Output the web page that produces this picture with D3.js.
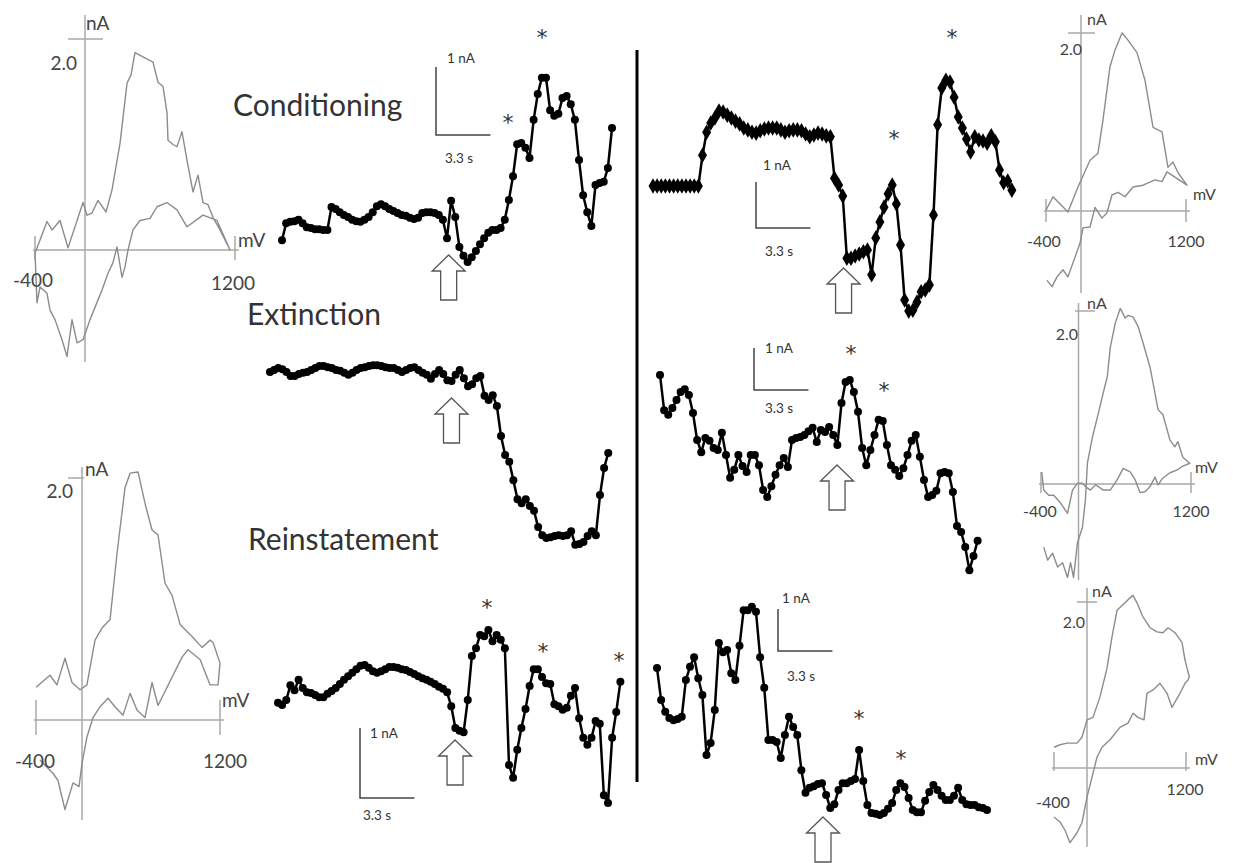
<!DOCTYPE html>
<html>
<head>
<meta charset="utf-8">
<script src="https://cdn.jsdelivr.net/npm/d3@7"></script>
<style>
  body { margin: 0; background: #fff; }
  svg { display: block; }
  text { font-family: Lato, "Open Sans", sans-serif; }
  text.star { font-family: "DejaVu Sans", sans-serif; }
</style>
</head>
<body>
<div id="fig"></div>
<script>

/*
    DATA
*/

// sampling of the voltammetric traces
var dt = 0.25;        // s between samples
var pxPerSec = 16.5;  // 3.3 s scale bar ~ 54 px

// current traces (nA, relative to pre-cue level), one value every 0.25 s
var condLeft = [-0.15,0.10,0.12,0.13,0.15,0.10,0.04,0.03,0.01,0.01,
    0,0,0.34,0.31,0.26,0.22,0.19,0.15,0.13,0.12,
    0.15,0.19,0.26,0.35,0.38,0.35,0.31,0.28,0.25,0.22,
    0.21,0.18,0.16,0.18,0.25,0.26,0.26,0.25,0.22,0.15,
    -0.12,0.43,0.19,-0.25,-0.38,-0.47,-0.40,-0.31,-0.21,-0.12,
    -0.04,0,0,0.03,0.15,0.44,0.79,1.26,1.28,1.21,
    1.06,1.62,2.00,2.24,2.24,1.76,1.68,1.71,1.94,1.97,
    1.85,1.62,1.03,0.51,0.26,0.06,0.66,0.69,0.71,0.91,
    1.50];

var condRight = [0,0,0,0,0,0,0,0,0,0,0,0,
    0.67,1.17,1.37,1.48,1.63,1.61,1.54,1.48,1.41,1.35,
    1.26,1.22,1.17,1.15,1.20,1.24,1.26,1.26,1.26,1.22,
    1.17,1.20,1.22,1.22,1.20,1.13,1.07,1.11,1.15,1.13,
    1.09,1.07,0.17,0.02,-0.22,-1.57,-1.57,-1.52,-1.48,-1.43,
    -1.39,-1.93,-1.13,-0.78,-0.46,-0.17,0.02,-0.39,-1.28,-2.48,
    -2.72,-2.70,-2.52,-2.30,-2.26,-2.15,-0.63,1.33,2.13,2.30,
    2.26,1.93,1.50,1.26,1.02,0.74,1.07,1.00,0.98,0.93,
    1.09,0.96,0.35,0.07,0.11,-0.09];

var extLeft = [-0.03,0,0.03,0.01,-0.03,-0.09,-0.09,-0.06,-0.04,-0.03,
    0,0.03,0.06,0.06,0.04,0.03,0,-0.01,-0.04,-0.07,
    -0.04,0,0.03,0.04,0.06,0.07,0.07,0.06,0.04,0.03,
    0.03,0,-0.03,0,0.03,0.04,0,-0.04,-0.07,-0.13,
    -0.06,0,-0.06,-0.15,-0.16,-0.07,0,-0.12,-0.24,-0.21,
    -0.12,-0.09,-0.38,-0.44,-0.37,-0.53,-0.97,-1.25,-1.35,-1.62,
    -1.90,-1.96,-1.90,-2.00,-2.07,-2.31,-2.43,-2.47,-2.46,-2.44,
    -2.43,-2.44,-2.43,-2.37,-2.57,-2.56,-2.53,-2.44,-2.37,-2.43,
    -1.84,-1.44,-1.22];

var extRight = [1.55,0.71,0.60,0.76,0.95,1.14,1.21,1.07,0.64,0,
    -0.29,0.05,-0.02,-0.19,-0.24,0.17,-0.36,-0.90,-0.71,-0.36,
    -0.62,-0.76,-0.36,-0.36,-0.60,-1.19,-1.36,-1.10,-0.83,-0.60,
    -0.43,-0.64,0,0.05,0.07,0.12,0.21,0.29,-0.05,0.24,
    0.19,0.31,0.12,-0.12,0.88,1.38,1.43,1.14,0.67,-0.19,
    -0.60,-0.24,0.12,0.48,0.45,-0.12,-0.60,-0.71,-0.86,-0.67,
    -0.36,-0.02,0.12,-0.40,-0.95,-1.36,-1.31,-1.21,-0.79,-0.76,
    -0.79,-1.24,-2.05,-2.19,-2.55,-3.10,-2.76,-2.40];

var reinLeft = [-0.04,-0.07,0,0.21,0.14,0.29,0.17,0.11,0.10,0.07,
    0.04,0.04,0.09,0.13,0.17,0.23,0.29,0.34,0.39,0.44,
    0.49,0.50,0.46,0.41,0.39,0.41,0.44,0.47,0.47,0.46,
    0.44,0.43,0.40,0.37,0.34,0.31,0.29,0.26,0.23,0.19,
    0.16,0.11,-0.09,-0.40,-0.44,-0.46,0,0.63,0.74,0.93,
    0.91,1.00,0.84,0.93,0.86,0.74,-0.93,-1.11,-0.71,-0.40,
    -0.13,0.20,0.44,0.44,0.33,0.24,0.23,-0.06,-0.09,-0.14,
    -0.11,0.06,0.17,-0.26,-0.54,-0.64,-0.54,-0.30,-0.34,-1.36,
    -1.47,-0.54,-0.17,0.26];

var reinRight = [3.14,2.38,2.10,1.95,1.90,1.93,1.98,2.86,3.17,3.40,
    2.90,2.50,1.07,1.36,2.14,3.74,3.52,3.57,3.02,2.86,
    3.67,4.52,4.52,4.60,4.48,3.40,2.67,1.43,1.43,1.38,
    1.00,1.55,1.98,1.74,1.55,0.71,0.17,0.29,0.33,0.38,
    0.40,0.12,-0.19,-0.10,0.24,0.40,0.40,0.45,0.50,1.19,
    0.45,-0.12,-0.31,-0.33,-0.36,-0.31,-0.21,-0.07,0.24,0.40,
    0.31,0.05,-0.24,-0.29,-0.29,-0.02,0.19,0.36,0.24,0.10,
    0,0,0.10,0.29,0,-0.10,-0.12,-0.12,-0.17,-0.19,
    -0.24];

// cue onset (s) for each trace, same order as above
var cueTimes = [10.1, 11.55, 11.0, 10.73, 10.73, 10.06];

// peaks marked with * : [time s, nA]
var condLeftStars = [[15.76, 2.90], [13.70, 1.66]];
var condRightStars = [[18.12, 3.33], [14.61, 1.15]];
var extRightStars = [[11.58, 2.19], [13.58, 1.29]];
var reinLeftStars = [[12.67, 1.40], [16.06, 0.76], [20.67, 0.64]];
var reinRightStars = [[12.24, 2.07], [14.79, 1.10]];

// cyclic voltammograms: [potential mV, current nA]
var cvCondLeft = [[-400,-0.03],[-304,0.27],[-264,0.19],[-200,0.28],[-136,0.02],[-16,0.45],[16,0.33],[56,0.35],[104,0.47],[168,0.36],
    [216,0.57],[280,1.01],[336,1.58],[368,1.66],[400,1.87],[464,1.83],[544,1.78],[584,1.59],[624,1.55],[656,1.30],
    [664,1.04],[704,1.00],[736,0.98],[776,1.12],[816,0.85],[864,0.55],[904,0.71],[944,0.45],[984,0.43],[1024,0.31],
    [1080,0.19],[1160,0],[1056,0.28],[944,0.33],[816,0.22],[736,0.38],[656,0.45],[576,0.41],[520,0.30],[440,0.28],
    [384,0.19],[344,0],[320,-0.16],[296,-0.26],[256,0.03],[224,-0.12],[184,-0.22],[136,-0.38],[40,-0.66],[-16,-0.85],
    [-64,-0.88],[-104,-0.66],[-144,-1.01],[-184,-0.85],[-240,-0.66],[-280,-0.57],[-304,-0.41],[-360,-0.35],[-384,-0.50],[-400,-0.03]];

var cvReinLeft = [[-400,0.27],[-278,0.37],[-218,0.29],[-148,0.51],[-87,0.31],[-17,0.25],[43,0.29],[113,0.66],[174,0.76],[244,0.83],
    [305,1.38],[374,1.92],[418,2.04],[487,2.05],[548,1.79],[609,1.57],[661,1.53],[722,1.13],[783,1.03],[853,0.79],
    [957,0.69],[1044,0.60],[1114,0.66],[1140,0.64],[1200,0.47],[1183,0.29],[1114,0.29],[1027,0.50],[922,0.58],[870,0.52],
    [661,0.12],[609,0.31],[548,0.02],[479,0.08],[418,0.22],[357,0.04],[287,0.11],[226,0.18],[157,0.11],[96,0.02],
    [43,-0.14],[0,-0.36],[-26,-0.55],[-78,-0.52],[-148,-0.74],[-209,-0.50],[-252,-0.44],[-305,-0.39],[-365,-0.33]];

var cvCondRight = [[-400,0.01],[-320,0.16],[-149,-0.01],[-34,0.27],[103,0.57],[194,0.65],[251,1.02],[331,1.62],[389,1.81],[469,2.00],
    [537,1.92],[640,1.78],[731,1.47],[823,0.94],[926,0.89],[994,0.49],[1051,0.55],[1109,0.43],[1211,0.29],[983,0.44],
    [926,0.33],[846,0.35],[709,0.29],[594,0.27],[503,0.16],[423,0.21],[354,0.18],[297,-0.02],[240,-0.08],[160,0.04],
    [103,-0.18],[23,-0.19],[-11,-0.36],[-91,-0.58],[-149,-0.74],[-206,-0.66],[-274,-0.74],[-331,-0.85],[-389,-0.78]];

var cvExtRight = [[-371,-0.73],[-329,-0.88],[-276,-0.80],[-223,-0.96],[-170,-0.91],[-117,-1.08],[-85,-0.91],[-53,-1.08],[-11,-0.68],[42,-0.50],
    [74,-0.18],[95,0.24],[148,0.54],[201,0.77],[254,1.01],[307,1.24],[339,1.58],[392,1.86],[445,2.03],[498,1.92],
    [530,1.95],[583,1.93],[636,1.82],[689,1.63],[763,1.35],[816,1.05],[848,0.86],[901,0.80],[975,0.51],[1028,0.43],
    [1060,0.49],[1113,0.31],[1187,0.24],[1102,0.20],[1049,0.16],[975,0.13],[901,0.07],[848,-0.01],[816,0.08],[763,-0.03],
    [710,-0.09],[657,-0.10],[604,0.05],[551,0.14],[477,0.18],[413,0.05],[339,-0.07],[265,-0.07],[212,-0.03],[180,-0.01],
    [127,-0.07],[74,-0.03],[42,0.01],[-11,0.01],[-64,-0.07],[-117,-0.34],[-191,-0.22],[-265,-0.13],[-318,-0.13],[-371,-0.07],[-392,0.14]];

var cvReinRight = [[-400,0.25],[-327,0.28],[-242,0.30],[-121,0.30],[-61,0.37],[0,0.58],[73,0.61],[158,0.86],[242,1.20],[303,1.58],
    [364,1.90],[461,1.99],[521,2.05],[558,2.08],[606,1.99],[679,1.82],[764,1.69],[848,1.64],[921,1.63],[982,1.69],
    [1067,1.63],[1152,1.51],[1188,1.30],[1240,1.10],[1224,1.06],[1188,1.02],[1127,0.90],[1030,0.73],[970,0.90],[885,1.02],
    [800,0.94],[727,0.90],[691,0.58],[618,0.61],[558,0.66],[497,0.54],[400,0.49],[279,0.34],[182,0.25],[121,0.13],
    [61,-0.11],[0,-0.35],[-61,-0.66],[-121,-0.78],[-206,-0.90],[-267,-0.75],[-327,-0.65],[-400,-0.59]];

var phaseLabels = ["Conditioning", "Extinction", "Reinstatement"];


/*
    LAYOUT
*/

var svg = d3.select("#fig").append("svg")
    .attr("width", 1233)
    .attr("height", 863);

var ink = "#333";

// trace panels: where each trace sits, and its own nA scale (px per nA from its scale bar)
var traces = [
    {data: condLeft, stars: condLeftStars, cue: cueTimes[0], x0: 282, y0: 230, k: 68, tip: 255,
        bar: [436, 135], nA: [447, 63], sec: [445, 163]},
    {data: condRight, stars: condRightStars, cue: cueTimes[1], x0: 653, y0: 186, k: 46, tip: 268,
        bar: [756, 228], nA: [763, 170], sec: [765, 256], diamond: true},
    {data: extLeft, stars: [], cue: cueTimes[2], x0: 270, y0: 370, k: 68, tip: 398},
    {data: extRight, stars: extRightStars, cue: cueTimes[3], x0: 660, y0: 440, k: 42, tip: 465,
        bar: [754, 390], nA: [765, 353], sec: [765, 413]},
    {data: reinLeft, stars: reinLeftStars, cue: cueTimes[4], x0: 278, y0: 700, k: 70, tip: 740,
        bar: [360, 798], nA: [370, 738], sec: [363, 820]},
    {data: reinRight, stars: reinRightStars, cue: cueTimes[5], x0: 657, y0: 800, k: 42, tip: 817,
        bar: [778, 651], nA: [782, 603], sec: [787, 681]}
];

traces.forEach(function(p) {
    var x = d3.scaleLinear().domain([0, 20]).range([p.x0, p.x0 + 20 * pxPerSec]);
    var y = d3.scaleLinear().domain([0, 1]).range([p.y0, p.y0 - p.k]);
    var g = svg.append("g");

    var line = d3.line()
        .x(function(d, i) { return x(i * dt); })
        .y(function(d) { return y(d); });

    g.append("path")
        .datum(p.data)
        .attr("d", line)
        .attr("fill", "none")
        .attr("stroke", "#000")
        .attr("stroke-width", 2.5)
        .attr("stroke-linejoin", "round");

    if (p.diamond) {
        g.selectAll(".pt")
            .data(p.data)
            .enter().append("path")
            .attr("class", "pt")
            .attr("d", d3.symbol(d3.symbolDiamond, 70))
            .attr("transform", function(d, i) { return "translate(" + x(i * dt) + "," + y(d) + ")"; })
            .attr("fill", "#000");
    } else {
        g.selectAll(".pt")
            .data(p.data)
            .enter().append("circle")
            .attr("class", "pt")
            .attr("cx", function(d, i) { return x(i * dt); })
            .attr("cy", function(d) { return y(d); })
            .attr("r", 4)
            .attr("fill", "#000");
    }

    // asterisks over the peaks
    g.selectAll(".star")
        .data(p.stars)
        .enter().append("text")
        .attr("class", "star")
        .attr("x", function(d) { return x(d[0]); })
        .attr("y", function(d) { return y(d[1]); })
        .attr("dy", "0.57em")
        .attr("text-anchor", "middle")
        .attr("font-size", 22)
        .attr("fill", ink)
        .text("*");

    // open arrow at cue onset
    var ax = x(p.cue), t = p.tip;
    g.append("path")
        .attr("d", "M" + ax + "," + t + "L" + (ax + 16.5) + "," + (t + 16) + "L" + (ax + 8) + "," + (t + 16) +
            "L" + (ax + 8) + "," + (t + 45) + "L" + (ax - 8) + "," + (t + 45) + "L" + (ax - 8) + "," + (t + 16) +
            "L" + (ax - 16.5) + "," + (t + 16) + "Z")
        .attr("fill", "#fff")
        .attr("stroke", "#555")
        .attr("stroke-width", 1.3);

    // scale bar: 1 nA / 3.3 s
    if (p.bar) {
        var bx = p.bar[0], by = p.bar[1];
        var h = y(0) - y(1), w = x(3.3) - x(0);
        g.append("path")
            .attr("d", "M" + bx + "," + (by - h) + "V" + by + "H" + (bx + w))
            .attr("fill", "none")
            .attr("stroke", "#444")
            .attr("stroke-width", 1.5);
        g.append("text").attr("x", p.nA[0]).attr("y", p.nA[1])
            .attr("font-size", 13.5).attr("fill", ink).text("1 nA");
        g.append("text").attr("x", p.sec[0]).attr("y", p.sec[1])
            .attr("font-size", 13.5).attr("fill", ink).text("3.3 s");
    }
});

// divider between the two subjects
svg.append("line")
    .attr("x1", 637).attr("x2", 637)
    .attr("y1", 50).attr("y2", 782)
    .attr("stroke", "#000")
    .attr("stroke-width", 3);

// phase names
var phasePos = [[233, 116], [247, 325], [248, 550]];
svg.selectAll(".phase")
    .data(phaseLabels)
    .enter().append("text")
    .attr("class", "phase")
    .attr("x", function(d, i) { return phasePos[i][0]; })
    .attr("y", function(d, i) { return phasePos[i][1]; })
    .attr("font-size", 30)
    .attr("fill", ink)
    .text(function(d) { return d; });


/*
    CYCLIC VOLTAMMOGRAMS
*/

var cvPanels = [
    {data: cvCondLeft, xr: [35, 235], yr: [250, 39], vTop: 15, vBot: 362, up: 14, dn: 10, top: [68, 103], fs: 19,
        nA: [86, 30], two: [77, 70], mV: [238, 247], lo: [33, 287], hi: [233, 290]},
    {data: cvReinLeft, xr: [36, 220], yr: [720, 478], vTop: 467, vBot: 820, up: 20, dn: 15, top: [68, 84], fs: 19,
        nA: [85, 476], two: [73, 498], mV: [222, 707], lo: [35, 768], hi: [225, 768]},
    {data: cvCondRight, xr: [1046, 1186], yr: [211, 33], vTop: 15, vBot: 293, up: 12, dn: 11, top: [1068, 1095], fs: 16,
        nA: [1087, 25], two: [1082, 55], mV: [1193, 200], lo: [1044, 247], hi: [1186, 247]},
    {data: cvExtRight, xr: [1041, 1191], yr: [484, 311], vTop: 303, vBot: 580, up: 12, dn: 9, top: [1075, 1095], fs: 16,
        nA: [1087, 309], two: [1078, 340], mV: [1195, 473], lo: [1040, 517], hi: [1191, 517]},
    {data: cvReinRight, xr: [1054, 1186], yr: [768, 602], vTop: 588, vBot: 847, up: 16, dn: 3, top: [1077, 1097], fs: 16,
        nA: [1092, 597], two: [1085, 628], mV: [1195, 765], lo: [1053, 808], hi: [1185, 795]}
];

cvPanels.forEach(function(p) {
    var x = d3.scaleLinear().domain([-400, 1200]).range(p.xr);
    var y = d3.scaleLinear().domain([0, 2]).range(p.yr);
    var g = svg.append("g")
        .attr("stroke", "#a8a8a8")
        .attr("stroke-width", 1.5)
        .attr("fill", "none");

    // axes
    g.append("line").attr("x1", x(-400) - 2).attr("x2", x(1200) + 4).attr("y1", y(0)).attr("y2", y(0));
    g.append("line").attr("x1", x(0)).attr("x2", x(0)).attr("y1", p.vTop).attr("y2", p.vBot);
    [-400, 1200].forEach(function(v) {
        g.append("line").attr("x1", x(v)).attr("x2", x(v)).attr("y1", y(0) - p.up).attr("y2", y(0) + p.dn);
    });
    g.append("line").attr("x1", p.top[0]).attr("x2", p.top[1]).attr("y1", y(2)).attr("y2", y(2));

    // voltammogram
    g.append("path")
        .datum(p.data)
        .attr("d", d3.line().x(function(d) { return x(d[0]); }).y(function(d) { return y(d[1]); }))
        .attr("stroke", "#8c8c8c")
        .attr("stroke-width", 1.4)
        .attr("stroke-linejoin", "round");

    var t = svg.append("g").attr("font-size", p.fs).attr("fill", "#444");
    t.append("text").attr("x", p.nA[0]).attr("y", p.nA[1]).text("nA");
    t.append("text").attr("x", p.two[0]).attr("y", p.two[1]).attr("text-anchor", "end").text("2.0");
    t.append("text").attr("x", p.mV[0]).attr("y", p.mV[1]).text("mV");
    t.append("text").attr("x", p.lo[0]).attr("y", p.lo[1]).attr("text-anchor", "middle").text("-400");
    t.append("text").attr("x", p.hi[0]).attr("y", p.hi[1]).attr("text-anchor", "middle").text("1200");
});

</script>
</body>
</html>
